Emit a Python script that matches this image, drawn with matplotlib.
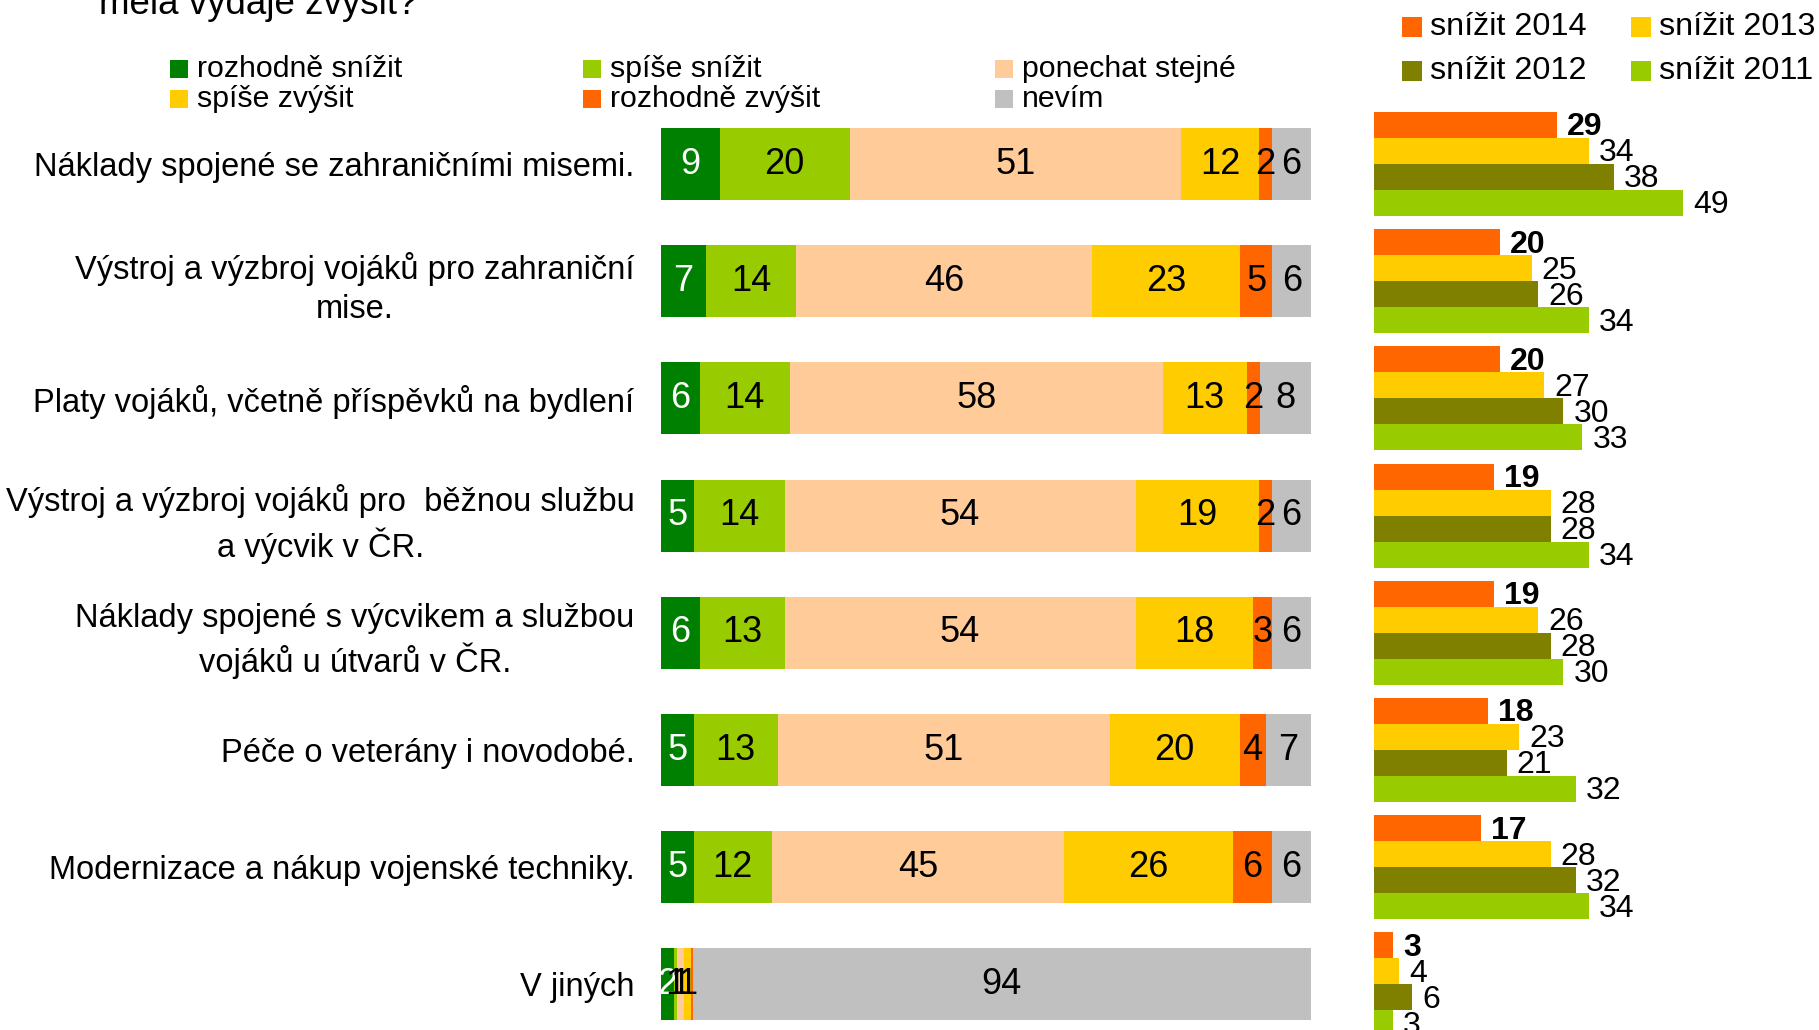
import numpy as np
import matplotlib.pyplot as plt
from matplotlib.patches import Rectangle

plt.rcParams['font.family'] = ['Liberation Sans', 'DejaVu Sans']

# categories (top to bottom)
categories = [
    "Náklady spojené se zahraničními misemi.",
    "Výstroj a výzbroj vojáků pro zahraniční\nmise.",
    "Platy vojáků, včetně příspěvků na bydlení",
    "Výstroj a výzbroj vojáků pro  běžnou službu\na výcvik v ČR.",
    "Náklady spojené s výcvikem a službou\nvojáků u útvarů v ČR.",
    "Péče o veterány i novodobé.",
    "Modernizace a nákup vojenské techniky.",
    "V jiných",
]

answers = ["rozhodně snížit", "spíše snížit", "ponechat stejné",
           "spíše zvýšit", "rozhodně zvýšit", "nevím"]
answer_colors = ["#008000", "#99CC00", "#FFCC99", "#FFCC00", "#FF6600", "#C0C0C0"]

rozhodne_snizit = [9, 7, 6, 5, 6, 5, 5, 2]
spise_snizit    = [20, 14, 14, 14, 13, 13, 12, 0.5]
ponechat        = [51, 46, 58, 54, 54, 51, 45, 1]
spise_zvysit    = [12, 23, 13, 19, 18, 20, 26, 1]
rozhodne_zvysit = [2, 5, 2, 2, 3, 4, 6, 0.3]
nevim           = [6, 6, 8, 6, 6, 7, 6, 94]

years = ["snížit 2014", "snížit 2013", "snížit 2012", "snížit 2011"]
year_colors = ["#FF6600", "#FFCC00", "#808000", "#99CC00"]
snizit_2014 = [29, 20, 20, 19, 19, 18, 17, 3]
snizit_2013 = [34, 25, 27, 28, 26, 23, 28, 4]
snizit_2012 = [38, 26, 30, 28, 28, 21, 32, 6]
snizit_2011 = [49, 34, 33, 34, 30, 32, 34, 3]

W, H = 1819, 1030
fig = plt.figure(figsize=(W / 100, H / 100), dpi=100)

pitch = 117.2      # px between rows
first = 164        # px, centre of first row from top
top_px = first - pitch / 2
ax_h = len(categories) * pitch
ax_bottom = (H - (top_px + ax_h)) / H

ax = fig.add_axes([661 / W, ax_bottom, 650 / W, ax_h / H])
ax2 = fig.add_axes([1374 / W, ax_bottom, 441.7 / W, ax_h / H])

y = np.arange(len(categories))
series = [rozhodne_snizit, spise_snizit, ponechat, spise_zvysit, rozhodne_zvysit, nevim]
data = np.array(series, dtype=float)
shares = data / data.sum(axis=0) * 100

left = np.zeros(len(categories))
for k, (vals, share) in enumerate(zip(series, shares)):
    ax.barh(y, share, left=left, height=0.615, color=answer_colors[k], linewidth=0)
    for i in range(len(categories)):
        v = vals[i]
        if v >= 0.5:
            ax.text(left[i] + share[i] / 2, y[i], str(int(v + 0.5)),
                    ha='center', va='center', fontsize=26,
                    color='white' if k == 0 else 'black')
    left += share

ax.set_xlim(0, 100)
ax.set_ylim(len(categories) - 0.5, -0.5)
ax.set_yticks(y)
ax.set_yticklabels(categories, fontsize=23.5, multialignment='center',
                   linespacing=1.32)
ax.tick_params(axis='y', length=0, pad=19)
ax.set_xticks([])
for s in ax.spines.values():
    s.set_visible(False)

# right chart: "snížit" across years
h = 0.222
for k, vals in enumerate([snizit_2014, snizit_2013, snizit_2012, snizit_2011]):
    yy = y + (k - 1.5) * h
    ax2.barh(yy, vals, height=h, color=year_colors[k], linewidth=0)
    for i, v in enumerate(vals):
        ax2.text(v + 1.6, yy[i] + 0.02, str(v), ha='left', va='center', fontsize=23,
                 fontweight='bold' if k == 0 else 'normal')
ax2.set_xlim(0, 70)
ax2.set_ylim(len(categories) - 0.5, -0.5)
ax2.axis('off')

# title (only the last line shows at the top edge)
fig.text(99 / W, 1 - 14 / H, "měla výdaje zvýšit?", fontsize=26.5,
         ha='left', va='baseline')

# legend for main chart (3 columns)
col_x = [170, 583, 995]
row_y = [69, 99]
sq = 18
for k, lab in enumerate(answers):
    cx = col_x[k % 3]
    cy = row_y[k // 3]
    fig.add_artist(Rectangle((cx / W, 1 - (cy + sq / 2) / H), sq / W, sq / H,
                             transform=fig.transFigure, color=answer_colors[k], lw=0))
    fig.text((cx + 27) / W, 1 - cy / H, lab, fontsize=21.8, ha='left', va='center')

# legend for right chart (2 columns)
col_x2 = [1402, 1631]
row_y2 = [27, 71]
sq2 = 20
for k, lab in enumerate(years):
    cx = col_x2[k % 2]
    cy = row_y2[k // 2]
    fig.add_artist(Rectangle((cx / W, 1 - (cy + sq2 / 2) / H), sq2 / W, sq2 / H,
                             transform=fig.transFigure, color=year_colors[k], lw=0))
    fig.text((cx + 28) / W, 1 - cy / H, lab, fontsize=23.3, ha='left', va='center')

fig.savefig('out.png', dpi=100)
